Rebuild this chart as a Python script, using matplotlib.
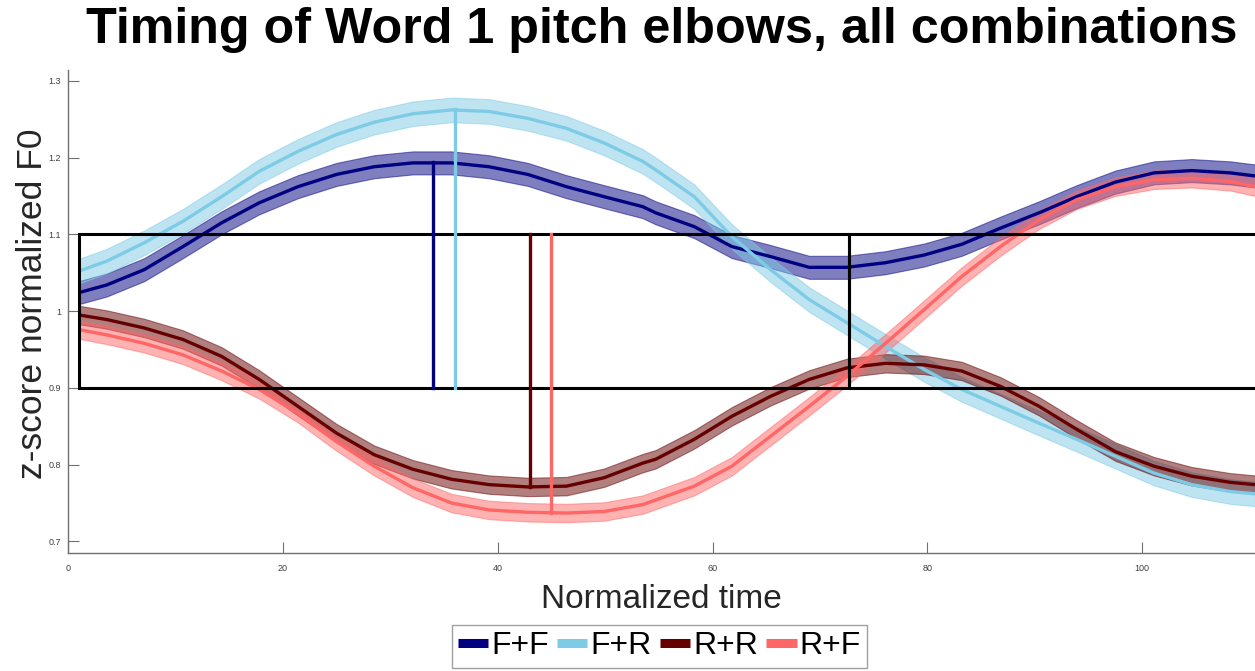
import numpy as np
import matplotlib.pyplot as plt
from matplotlib.patches import Rectangle

plt.rcParams['font.family'] = ['Liberation Sans', 'DejaVu Sans']

# mean z-scored F0 contours, word 1, per combination
t = [1.0, 3.6, 7.1, 10.7, 14.3, 17.8, 21.4, 25.0, 28.5, 32.1, 35.7, 39.2, 42.8, 46.4, 49.9, 53.5,
     54.7, 58.3, 61.8, 65.4, 69.0, 72.5, 76.1, 79.7, 83.2, 86.8, 90.4, 93.9, 97.5, 101.1, 104.6,
     108.2, 110.5]
ff = [1.024, 1.034, 1.054, 1.084, 1.115, 1.141, 1.162, 1.178, 1.188, 1.193, 1.193, 1.188,
      1.178, 1.162, 1.149, 1.136,
      1.128, 1.110, 1.084, 1.071, 1.057, 1.057, 1.063, 1.073, 1.087, 1.108, 1.128, 1.149,
      1.168, 1.180, 1.183, 1.180, 1.176]
fr = [1.052, 1.065, 1.089, 1.117, 1.149, 1.182, 1.208, 1.230, 1.246, 1.257, 1.262, 1.260,
      1.251, 1.238, 1.219, 1.195,
      1.184, 1.149, 1.097, 1.054, 1.015, 0.985, 0.954, 0.924, 0.898, 0.876, 0.854, 0.833,
      0.811, 0.789, 0.774, 0.765, 0.762]
rr = [0.995, 0.989, 0.978, 0.963, 0.941, 0.911, 0.876, 0.841, 0.813, 0.794, 0.781, 0.774,
      0.771, 0.772, 0.783, 0.802,
      0.807, 0.833, 0.863, 0.889, 0.911, 0.926, 0.932, 0.930, 0.922, 0.902, 0.876, 0.846,
      0.817, 0.798, 0.785, 0.777, 0.774]
rf = [0.976, 0.969, 0.958, 0.943, 0.922, 0.898, 0.867, 0.830, 0.798, 0.770, 0.750, 0.741,
      0.738, 0.737, 0.739, 0.748,
      0.754, 0.772, 0.798, 0.837, 0.876, 0.915, 0.958, 1.002, 1.045, 1.084, 1.119, 1.145,
      1.162, 1.171, 1.173, 1.169, 1.162]
# half-width of the shaded error band
err = [0.015, 0.016, 0.012, 0.012]

labels = ['F+F', 'F+R', 'R+R', 'R+F']
colors = ['#000080', '#7ecbe6', '#660000', '#ff6666']

# elbow positions (time, F0 at elbow)
elbow_t = [34, 36, 43, 45]
elbow_y = [1.194, 1.263, 0.771, 0.737]

box_x = [1, 72.7, 145]
box_y = [0.9, 1.1]

fig = plt.figure(figsize=(12.55, 6.71), dpi=100)
ax = fig.add_axes([0.0542, 0.1759, 0.9458, 0.7198])

series = [ff, fr, rr, rf]
for s, c, e, lab in zip(series, colors, err, labels):
    y = np.array(s)
    ax.fill_between(t, y - e, y + e, color=c, alpha=0.5, linewidth=0.8)
    ax.plot(t, y, color=c, lw=2.4, label=lab, solid_capstyle='butt')

# windows around the elbows
for x0, x1 in zip(box_x[:-1], box_x[1:]):
    ax.add_patch(Rectangle((x0, box_y[0]), x1 - x0, box_y[1] - box_y[0],
                           fill=False, edgecolor='black', lw=2.2, zorder=5))

for i in range(4):
    if elbow_y[i] > box_y[1]:
        ax.plot([elbow_t[i]] * 2, [box_y[0], elbow_y[i]], color=colors[i], lw=2.4, zorder=6)
    else:
        ax.plot([elbow_t[i]] * 2, [elbow_y[i], box_y[1]], color=colors[i], lw=2.4, zorder=6)

ax.set_xlim(0, 110.5)
ax.set_ylim(0.685, 1.314)
ax.set_xticks([0, 20, 40, 60, 80, 100])
ax.set_yticks([0.7, 0.8, 0.9, 1.0, 1.1, 1.2, 1.3])
ax.set_yticklabels(['0.7', '0.8', '0.9', '1', '1.1', '1.2', '1.3'])
ax.tick_params(direction='in', length=8, width=0.8, color='#707070',
               labelsize=6.5, labelcolor='#404040')
ax.tick_params(axis='x', pad=8)
ax.tick_params(axis='y', pad=5)
for side in ['top', 'right']:
    ax.spines[side].set_visible(False)
for side in ['left', 'bottom']:
    ax.spines[side].set_color('#707070')
    ax.spines[side].set_linewidth(1.0)

ax.set_xlabel('Normalized time', fontsize=24, labelpad=8, color='#262626')
ax.set_ylabel('z-score normalized F0', fontsize=25.5, color='#262626')
ax.yaxis.set_label_coords(-0.016, 0.515)
fig.text(0.527, 0.955, 'Timing of Word 1 pitch elbows, all combinations',
         ha='center', va='center', fontsize=36.2, fontweight='bold')

leg = fig.legend(loc='upper center', bbox_to_anchor=(0.5255, 1 - 625 / 671), ncol=4,
                 fontsize=23, handlelength=0.95, handletextpad=0.1, columnspacing=0.25,
                 borderpad=0.2, borderaxespad=0, fancybox=False, edgecolor='#a0a0a0',
                 framealpha=1)
for h in leg.legend_handles:
    h.set_linewidth(6.5)

fig.savefig('out.png', dpi=100)
